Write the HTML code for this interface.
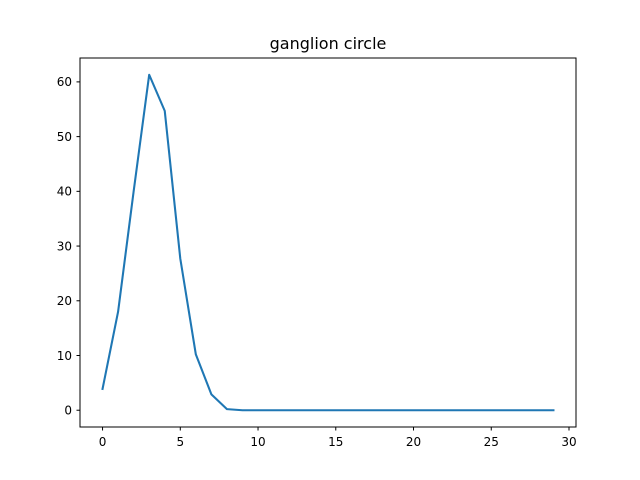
<!DOCTYPE html>
<html><head><meta charset="utf-8"><style>body{margin:0;background:#fff}svg{display:block}text{font-family:"DejaVu Sans","Liberation Sans",sans-serif}</style></head>
<body>
<svg id="chart" width="640" height="480" xmlns="http://www.w3.org/2000/svg">
<text x="328" y="49" font-size="16" text-anchor="middle" fill="#000">ganglion circle</text>
<rect x="80" y="58" width="496" height="369" fill="none" stroke="#000" stroke-width="1"/>
<g id="ticks"></g>
<path id="line" fill="none" stroke="#1f77b4" stroke-width="2.08" stroke-linejoin="round" stroke-linecap="square"/>
</svg>
<script>
const values = [3.9, 18, 40, 61.3, 54.7, 27.7, 10.2, 2.9, 0.2, 0, 0, 0, 0, 0, 0, 0, 0, 0, 0, 0, 0, 0, 0, 0, 0, 0, 0, 0, 0, 0];
const xTicks = [0, 5, 10, 15, 20, 25, 30];
const yTicks = [0, 10, 20, 30, 40, 50, 60];
const n = values.length;
const xmin = -0.05*(n-1), xmax = (n-1)*1.05;
const vmax = Math.max(...values), vmin = Math.min(...values), pad = 0.05*(vmax-vmin);
const ymin = vmin-pad, ymax = vmax+pad;
const X = v => 80 + (v - xmin)/(xmax - xmin)*496;
const Y = v => 427 - (v - ymin)/(ymax - ymin)*369;
const NS = "http://www.w3.org/2000/svg";
const g = document.getElementById('ticks');
function mk(tag, attrs){const e=document.createElementNS(NS,tag);for(const k in attrs)e.setAttribute(k,attrs[k]);g.appendChild(e);return e;}
xTicks.forEach(t=>{
  const x=X(t);
  const l=mk('line',{x1:x,x2:x,y1:427,y2:430.5,stroke:'#000'});
  
  
  const tx=mk('text',{x:x,y:446,'font-size':'12','text-anchor':'middle'});
  tx.textContent=t;
  
  
});
yTicks.forEach(t=>{
  const y=Y(t);
  const l=mk('line',{x1:76.5,x2:80,y1:y,y2:y,stroke:'#000'});
  
  
  const tx=mk('text',{x:72,y:y+4.3,'font-size':'12','text-anchor':'end'});
  tx.textContent=t;
  
  
});
document.getElementById('line').setAttribute('d', values.map((v,i)=>(i?'L':'M')+X(i).toFixed(2)+','+Y(v).toFixed(2)).join(' '));
</script>
</body></html>
